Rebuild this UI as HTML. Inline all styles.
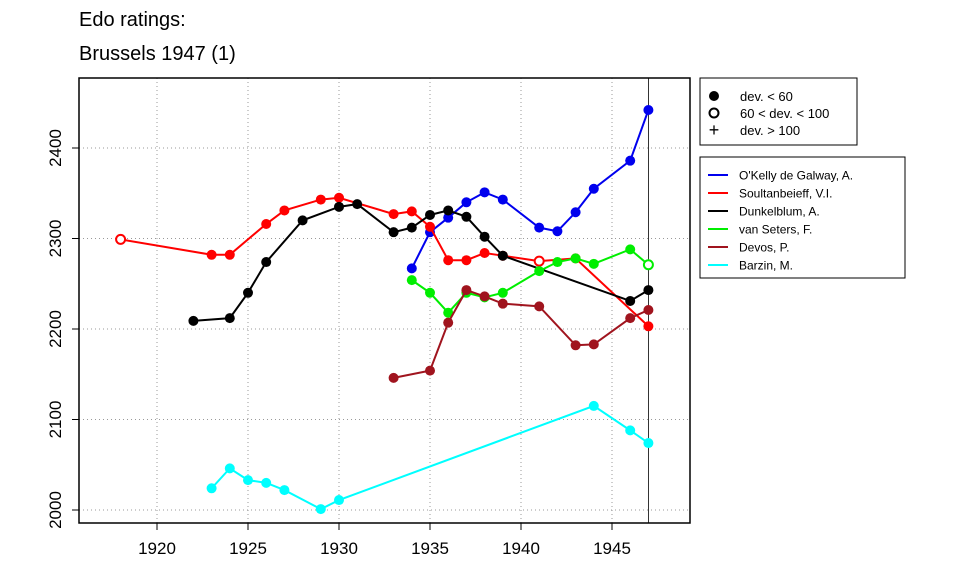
<!DOCTYPE html>
<html><head><meta charset="utf-8"><style>
body{margin:0;background:#fff;}
svg text{font-family:"Liberation Sans",sans-serif;}
</style></head><body>
<svg id="chart" width="960" height="576" xmlns="http://www.w3.org/2000/svg">
<text x="79" y="26" font-size="20">Edo ratings:</text>
<text x="79" y="60" font-size="20">Brussels 1947 (1)</text>
<g id="grid"></g>
<g id="marks"></g>
<rect x="79" y="78" width="611" height="445" fill="none" stroke="#000" stroke-width="1.5"/>
<g id="axes"></g>
<g>
<rect x="700" y="78" width="157" height="67" fill="#fff" stroke="#000"/>
<circle cx="714" cy="96" r="5" fill="#000"/><text x="740" y="101" font-size="13">dev. &lt; 60</text>
<circle cx="714" cy="113" r="4.5" fill="none" stroke="#000" stroke-width="2"/><text x="740" y="118" font-size="13">60 &lt; dev. &lt; 100</text>
<text x="714" y="136" font-size="18" text-anchor="middle">+</text><text x="740" y="135" font-size="13">dev. &gt; 100</text>
</g>
<g id="legend">
<rect x="700" y="157" width="205" height="121" fill="#fff" stroke="#000"/>
</g>
</svg>
<script>
const years=[1920,1925,1930,1935,1940,1945];
const yTicks=[2000,2100,2200,2300,2400];
const names=["O'Kelly de Galway, A.","Soultanbeieff, V.I.","Dunkelblum, A.","van Seters, F.","Devos, P.","Barzin, M."];
const colors=["#0000ee","#ff0000","#000000","#00ee00","#a0141e","#00ffff"];
const okellyX=[1934,1935,1936,1937,1938,1939,1941,1942,1943,1944,1946,1947];
const okellyY=[2267,2307,2323,2340,2351,2343,2312,2308,2329,2355,2386,2442];
const okellyOpen=[];
const soultX=[1918,1923,1924,1926,1927,1929,1930,1933,1934,1935,1936,1937,1938,1939,1941,1943,1947];
const soultY=[2299,2282,2282,2316,2331,2343,2345,2327,2330,2313,2276,2276,2284,2281,2275,2278,2203];
const soultOpen=[1918,1941];
const dunkX=[1922,1924,1925,1926,1928,1930,1931,1933,1934,1935,1936,1937,1938,1939,1946,1947];
const dunkY=[2209,2212,2240,2274,2320,2335,2338,2307,2312,2326,2331,2324,2302,2281,2231,2243];
const dunkOpen=[];
const setersX=[1934,1935,1936,1937,1938,1939,1941,1942,1943,1944,1946,1947];
const setersY=[2254,2240,2218,2240,2235,2240,2264,2274,2278,2272,2288,2271];
const setersOpen=[1947];
const devosX=[1933,1935,1936,1937,1938,1939,1941,1943,1944,1946,1947];
const devosY=[2146,2154,2207,2243,2236,2228,2225,2182,2183,2212,2221];
const devosOpen=[];
const barzinX=[1923,1924,1925,1926,1927,1929,1930,1944,1946,1947];
const barzinY=[2024,2046,2033,2030,2022,2001,2011,2115,2088,2074];
const barzinOpen=[];
const seriesX=[okellyX,soultX,dunkX,setersX,devosX,barzinX];
const seriesY=[okellyY,soultY,dunkY,setersY,devosY,barzinY];
const seriesOpen=[okellyOpen,soultOpen,dunkOpen,setersOpen,devosOpen,barzinOpen];
const NS="http://www.w3.org/2000/svg";
const xs=y=>157+(y-1920)*18.2;
const ys=v=>510-(v-2000)*0.905;
function mk(tag,attrs,parent){const e=document.createElementNS(NS,tag);for(const k in attrs)e.setAttribute(k,attrs[k]);parent.appendChild(e);return e;}
const grid=document.getElementById('grid'),axes=document.getElementById('axes'),marks=document.getElementById('marks'),legend=document.getElementById('legend');
years.forEach(y=>{
 const l=mk('line',{x1:xs(y),x2:xs(y),y1:78,y2:523,stroke:'#999','stroke-dasharray':'1,3'},grid);
 
 
 const t=mk('line',{x1:xs(y),x2:xs(y),y1:523,y2:530,stroke:'#000'},axes);
 
 
 const tx=mk('text',{x:xs(y),y:554,'font-size':17,'text-anchor':'middle'},axes);tx.textContent=y;
 
 
});
yTicks.forEach(v=>{
 const l=mk('line',{x1:79,x2:690,y1:ys(v),y2:ys(v),stroke:'#999','stroke-dasharray':'1,3'},grid);
 
 
 const t=mk('line',{x1:72,x2:79,y1:ys(v),y2:ys(v),stroke:'#000'},axes);
 
 
 const tx=mk('text',{x:0,y:0,'font-size':17,'text-anchor':'middle',transform:`translate(61,${ys(v)}) rotate(-90)`},axes);tx.textContent=v;
 
 
});
const vl=mk('line',{x1:xs(1947),x2:xs(1947),y1:78,y2:523,stroke:'#000','stroke-width':0.8},marks);


seriesX.forEach((X,i)=>{
 const Y=seriesY[i];
 const pl=mk('polyline',{points:X.map((x,j)=>xs(x)+','+ys(Y[j])).join(' '),fill:'none',stroke:colors[i],'stroke-width':2},marks);
 
 
 X.forEach((x,j)=>{
  const open=seriesOpen[i].includes(x);
  const c=mk('circle',{cx:xs(x),cy:ys(Y[j]),r:open?4.5:5,fill:open?'#fff':colors[i],stroke:colors[i],'stroke-width':open?2:0},marks);
  
  
 });
 const ly=175+i*18;
 const ll=mk('line',{x1:708,x2:728,y1:ly,y2:ly,stroke:colors[i],'stroke-width':2},legend);
 
 
 const lt=mk('text',{x:739,y:ly+4.5,'font-size':12},legend);lt.textContent=names[i];
 
 
});
</script>
</body></html>
